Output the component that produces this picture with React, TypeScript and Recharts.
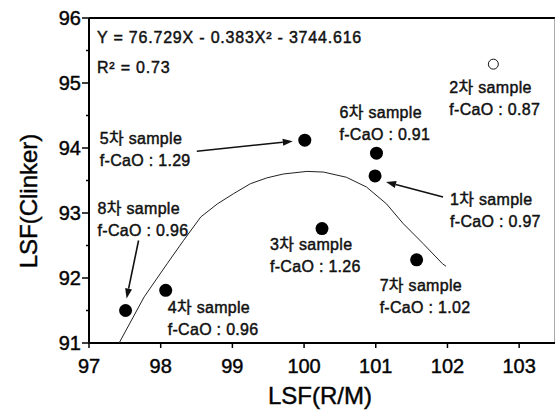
import React from 'react';
import {
  ScatterChart,
  Scatter,
  XAxis,
  YAxis,
  ReferenceLine
} from 'recharts';

// sample points
const sampleNames = ['1차', '2차', '3차', '4차', '5차', '6차', '7차', '8차'];
const lsfRM = [100.99, 102.64, 100.25, 98.07, 100.01, 101.01, 101.57, 97.51];
const lsfClinker = [93.57, 95.29, 92.76, 91.81, 94.12, 93.92, 92.28, 91.5];
const fCaO = ['0.97', '0.87', '1.26', '0.96', '1.29', '0.91', '1.02', '0.96'];
const hollow = [false, true, false, false, false, false, false, false];

// fitted curve
const fitX = [97.42, 97.77, 98.09, 98.32, 98.56, 98.79, 99.02, 99.25, 99.48, 99.71, 100.04, 100.27, 100.59, 100.87, 101.15, 101.38, 101.66, 101.93, 101.98];
const fitY = [91.0, 91.71, 92.22, 92.58, 92.94, 93.14, 93.3, 93.45, 93.54, 93.6, 93.64, 93.63, 93.55, 93.4, 93.14, 92.84, 92.53, 92.22, 92.18];

const xMajor = [97, 98, 99, 100, 101, 102, 103];
const yMajor = [91, 92, 93, 94, 95, 96];
const yMinor = [91.5, 92.5, 93.5, 94.5, 95.5];

const equation = 'Y = 76.729X - 0.383X² - 3744.616';
const rSquared = 'R² = 0.73';

// label placement in px relative to each dot: [dx, dy]
const labelOffset: [number, number][] = [
  [75, 29], [-44, 29], [-52, 21], [2, 23], [-205, 4], [-37, -35], [-37, 31], [-28, -97]
];
// arrows in px relative to the dot: [tailDx, tailDy, headDx, headDy]
const arrows: ([number, number, number, number] | null)[] = [
  [68, 21, 11, 6], null, null, null, [-108, 11, -12, 1], null, null, [13, -70, 1, -12]
];

const FONT = '"Liberation Sans", Arial, "Noto Sans CJK KR", sans-serif';
// scanned print looks a bit heavier than regular weight
const heavy = { stroke: '#111', strokeWidth: 0.45 };

const points = sampleNames.map((name, i) => ({
  x: lsfRM[i],
  y: lsfClinker[i],
  idx: i,
  name
}));
const fitData = fitX.map((x, i) => ({ x, y: fitY[i] }));

const Arrow = ({ x1, y1, x2, y2 }: { x1: number; y1: number; x2: number; y2: number }) => {
  const a = Math.atan2(y2 - y1, x2 - x1);
  const len = 10;
  const w = 3.5;
  const bx = x2 - len * Math.cos(a);
  const by = y2 - len * Math.sin(a);
  const px = -Math.sin(a) * w;
  const py = Math.cos(a) * w;
  return (
    <g>
      <line x1={x1} y1={y1} x2={bx} y2={by} stroke="#111" strokeWidth={1.6} />
      <polygon points={`${x2},${y2} ${bx + px},${by + py} ${bx - px},${by - py}`} fill="#111" />
    </g>
  );
};

const SampleDot = (props: any) => {
  const { cx, cy, payload } = props;
  const i = payload.idx;
  const [dx, dy] = labelOffset[i];
  const ar = arrows[i];
  return (
    <g>
      {hollow[i] ? (
        <circle cx={cx} cy={cy} r={5} fill="#fff" stroke="#111" strokeWidth={1} />
      ) : (
        <circle cx={cx} cy={cy} r={6.5} fill="#000" />
      )}
      <text x={cx + dx} y={cy + dy} fontSize={16} fontFamily={FONT} fill="#111" letterSpacing={0.3} {...heavy}>
        {payload.name} sample
      </text>
      <text x={cx + dx} y={cy + dy + 22} fontSize={16} fontFamily={FONT} fill="#111" letterSpacing={0.3} {...heavy}>
        f-CaO : {fCaO[i]}
      </text>
      {ar && <Arrow x1={cx + ar[0]} y1={cy + ar[1]} x2={cx + ar[2]} y2={cy + ar[3]} />}
    </g>
  );
};

const XTick = (props: any) => {
  const { x, y, payload } = props;
  return (
    <g>
      <line x1={x} y1={y} x2={x} y2={y + 5} stroke="#000" strokeWidth={1.5} />
      <text x={x} y={y + 30} textAnchor="middle" fontSize={20} fontFamily={FONT} fill="#000" {...heavy}>
        {payload.value}
      </text>
    </g>
  );
};

const YTick = (props: any) => {
  const { x, y, payload } = props;
  const major = yMajor.includes(payload.value);
  return (
    <g>
      <line x1={x} y1={y} x2={x - (major ? 7 : 3)} y2={y} stroke="#000" strokeWidth={1.5} />
      {major && (
        <text x={x - 8} y={y + 7} textAnchor="end" fontSize={20} fontFamily={FONT} fill="#000" {...heavy}>
          {payload.value}
        </text>
      )}
    </g>
  );
};

const App: React.FC = () => {
  return (
    <div style={{ position: 'absolute', left: 0, top: 0, width: 555, height: 412, background: '#fff' }}>
      <ScatterChart width={555} height={412} margin={{ top: 18, right: 0, bottom: 0, left: 0 }}>
        <XAxis
          type="number"
          dataKey="x"
          domain={[97, 103.5]}
          ticks={xMajor}
          allowDataOverflow
          height={69}
          tickSize={0}
          tickMargin={0}
          tickLine={false}
          tick={<XTick />}
          axisLine={{ stroke: '#000', strokeWidth: 2 }}
        />
        <YAxis
          type="number"
          dataKey="y"
          domain={[91, 96]}
          ticks={[...yMajor, ...yMinor].sort((a, b) => a - b)}
          allowDataOverflow
          width={89}
          tickSize={0}
          tickMargin={0}
          tickLine={false}
          tick={<YTick />}
          axisLine={{ stroke: '#000', strokeWidth: 2 }}
        />
        <ReferenceLine y={96} stroke="#000" strokeWidth={2} />
        <ReferenceLine x={103.5} stroke="#555" strokeWidth={1} />
        <Scatter
          data={fitData}
          line={{ stroke: '#222', strokeWidth: 1 }}
          lineType="joint"
          shape={() => <g />}
          isAnimationActive={false}
        />
        <Scatter data={points} shape={<SampleDot />} isAnimationActive={false} />
        <text x={97} y={43} fontSize={16} fontFamily={FONT} fill="#111" letterSpacing={0.8} {...heavy}>
          {equation}
        </text>
        <text x={97} y={73} fontSize={16} fontFamily={FONT} fill="#111" letterSpacing={0.8} {...heavy}>
          {rSquared}
        </text>
        <text x={320} y={404} textAnchor="middle" fontSize={24} fontFamily={FONT} fill="#000" {...heavy}>
          LSF(R/M)
        </text>
        <text
          x={37}
          y={201}
          textAnchor="middle"
          fontSize={24}
          fontFamily={FONT}
          fill="#000"
          transform="rotate(-90 37 201)"
          {...heavy}
        >
          LSF(Clinker)
        </text>
      </ScatterChart>
    </div>
  );
};

export default App;
